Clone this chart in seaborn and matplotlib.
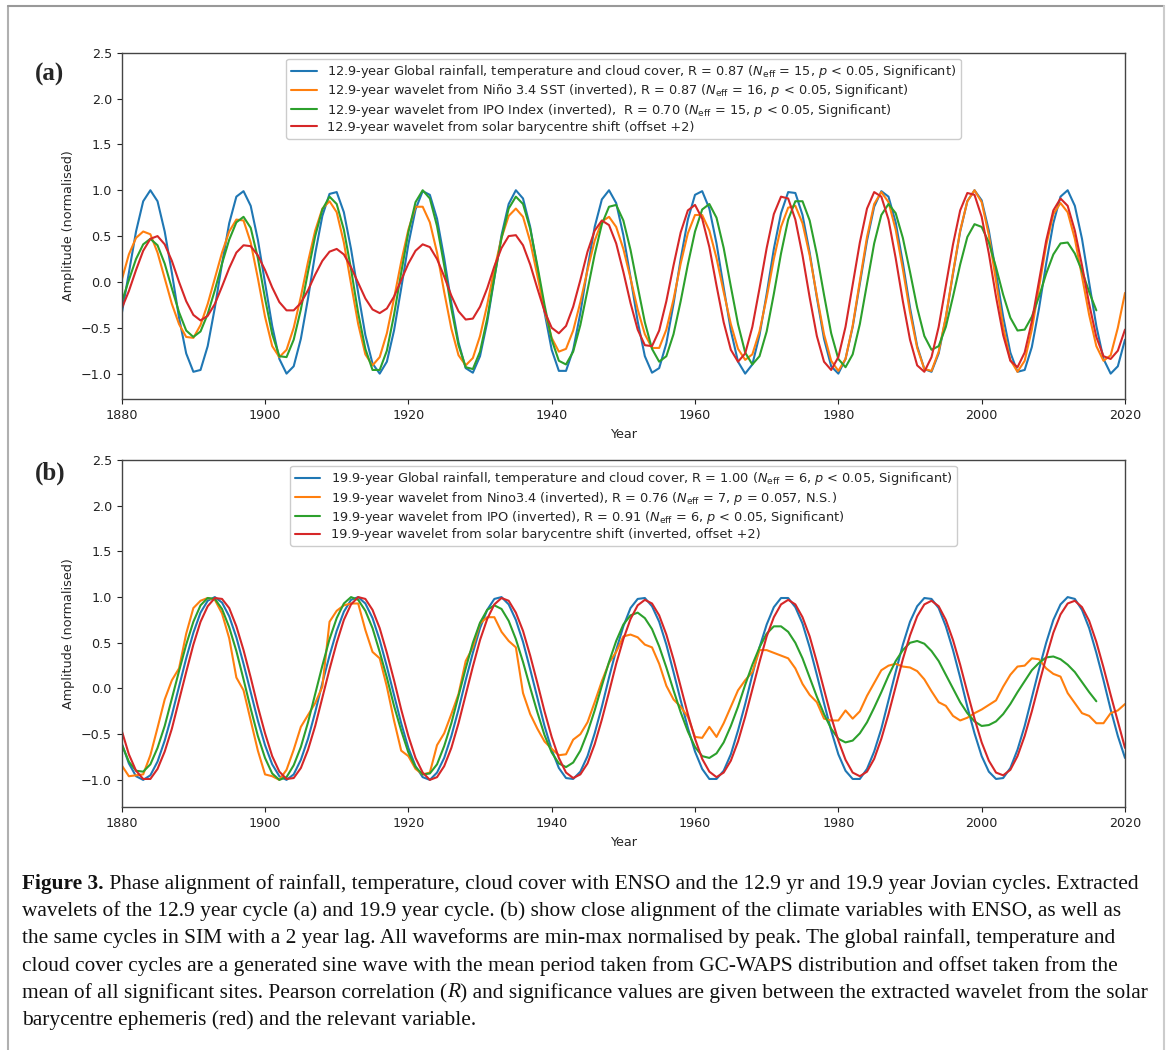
import numpy as np
import pandas as pd
import matplotlib
matplotlib.use("Agg")
import matplotlib.pyplot as plt
import seaborn as sns
from matplotlib.lines import Line2D

# ---- data (yearly values) ----
years_a = np.arange(1880, 2021)
years_ipo_a = np.arange(1880, 2017)
years_b = np.arange(1880, 2021)
years_ipo_b = np.arange(1880, 2017)

# (a) 12.9-year cycle
global_a = [-0.35, 0.10, 0.55, 0.88, 1.00, 0.88, 0.55, 0.10, -0.39, -0.78,
            -0.98, -0.96, -0.70, -0.28, 0.20, 0.64, 0.93, 0.99, 0.83, 0.46,
            -0.01, -0.48, -0.84, -1.00, -0.92, -0.62, -0.18, 0.31, 0.72, 0.96,
            0.98, 0.76, 0.36, -0.12, -0.58, -0.89, -1.00, -0.87, -0.53, -0.07,
            0.41, 0.79, 0.99, 0.95, 0.69, 0.26, -0.23, -0.66, -0.94, -0.99,
            -0.81, -0.44, 0.04, 0.51, 0.85, 1.00, 0.91, 0.60, 0.15, -0.33,
            -0.74, -0.97, -0.97, -0.74, -0.34, 0.15, 0.60, 0.90, 1.00, 0.86,
            0.51, 0.05, -0.43, -0.81, -0.99, -0.94, -0.67, -0.24, 0.25, 0.68,
            0.95, 0.99, 0.80, 0.42, -0.06, -0.53, -0.87, -1.00, -0.90, -0.58,
            -0.13, 0.36, 0.75, 0.98, 0.97, 0.73, 0.32, -0.17, -0.62, -0.92,
            -1.00, -0.84, -0.49, -0.02, 0.45, 0.82, 0.99, 0.93, 0.65, 0.21,
            -0.28, -0.70, -0.95, -0.98, -0.78, -0.39, 0.09, 0.55, 0.88, 1.00,
            0.89, 0.56, 0.10, -0.38, -0.77, -0.98, -0.96, -0.71, -0.29, 0.20,
            0.64, 0.93, 1.00, 0.83, 0.47, -0.01, -0.48, -0.84, -1.00, -0.92,
            -0.63]
nino_a = [0.02, 0.30, 0.48, 0.55, 0.52, 0.32, 0.04, -0.24, -0.46, -0.60,
          -0.61, -0.47, -0.24, 0.04, 0.32, 0.55, 0.68, 0.67, 0.43, 0.04,
          -0.38, -0.70, -0.82, -0.74, -0.50, -0.16, 0.22, 0.56, 0.80, 0.88,
          0.76, 0.43, -0.02, -0.46, -0.79, -0.91, -0.82, -0.56, -0.18, 0.22,
          0.57, 0.82, 0.82, 0.65, 0.32, -0.11, -0.51, -0.80, -0.91, -0.83,
          -0.59, -0.25, 0.14, 0.48, 0.72, 0.80, 0.71, 0.44, 0.07, -0.31,
          -0.61, -0.76, -0.73, -0.53, -0.22, 0.13, 0.45, 0.66, 0.71, 0.60,
          0.36, 0.04, -0.30, -0.57, -0.72, -0.72, -0.52, -0.19, 0.20, 0.53,
          0.73, 0.73, 0.56, 0.26, -0.11, -0.46, -0.73, -0.85, -0.79, -0.54,
          -0.17, 0.25, 0.60, 0.81, 0.83, 0.64, 0.29, -0.15, -0.57, -0.86,
          -0.97, -0.84, -0.48, 0.01, 0.49, 0.85, 0.98, 0.87, 0.57, 0.14,
          -0.33, -0.72, -0.95, -0.97, -0.76, -0.38, 0.10, 0.56, 0.88, 1.00,
          0.87, 0.51, 0.01, -0.49, -0.85, -0.98, -0.86, -0.52, -0.06, 0.40,
          0.74, 0.86, 0.76, 0.47, 0.06, -0.36, -0.70, -0.86, -0.80, -0.50,
          -0.12]
ipo_a = [-0.22, 0.02, 0.25, 0.41, 0.47, 0.40, 0.20, -0.07, -0.33, -0.53,
         -0.60, -0.54, -0.35, -0.09, 0.20, 0.46, 0.65, 0.71, 0.59, 0.26,
         -0.18, -0.57, -0.81, -0.82, -0.63, -0.30, 0.11, 0.50, 0.79, 0.93,
         0.85, 0.57, 0.14, -0.34, -0.73, -0.96, -0.96, -0.75, -0.36, 0.10,
         0.54, 0.87, 1.00, 0.91, 0.61, 0.18, -0.29, -0.69, -0.93, -0.95,
         -0.76, -0.40, 0.05, 0.48, 0.80, 0.93, 0.85, 0.58, 0.18, -0.25,
         -0.63, -0.86, -0.90, -0.76, -0.47, -0.09, 0.30, 0.63, 0.82, 0.84,
         0.67, 0.35, -0.05, -0.44, -0.73, -0.87, -0.81, -0.57, -0.21, 0.19,
         0.55, 0.79, 0.85, 0.70, 0.37, -0.05, -0.46, -0.77, -0.90, -0.81,
         -0.54, -0.13, 0.31, 0.68, 0.88, 0.88, 0.67, 0.30, -0.14, -0.56,
         -0.84, -0.93, -0.79, -0.46, -0.02, 0.42, 0.73, 0.85, 0.75, 0.48,
         0.11, -0.28, -0.59, -0.74, -0.70, -0.49, -0.16, 0.19, 0.49, 0.63,
         0.60, 0.43, 0.16, -0.14, -0.39, -0.53, -0.52, -0.38, -0.16, 0.09,
         0.30, 0.42, 0.43, 0.31, 0.12, -0.11, -0.31]
solar_a = [-0.29, -0.10, 0.13, 0.34, 0.47, 0.50, 0.41, 0.23, 0.00, -0.21,
           -0.36, -0.42, -0.37, -0.24, -0.05, 0.15, 0.32, 0.40, 0.39, 0.29,
           0.13, -0.06, -0.22, -0.31, -0.31, -0.23, -0.09, 0.08, 0.23, 0.33,
           0.36, 0.30, 0.16, -0.01, -0.18, -0.30, -0.34, -0.29, -0.16, 0.02,
           0.20, 0.34, 0.41, 0.38, 0.25, 0.06, -0.15, -0.32, -0.41, -0.40,
           -0.27, -0.07, 0.17, 0.37, 0.50, 0.51, 0.40, 0.19, -0.07, -0.32,
           -0.50, -0.56, -0.48, -0.27, 0.02, 0.33, 0.56, 0.67, 0.62, 0.42,
           0.11, -0.23, -0.52, -0.69, -0.70, -0.53, -0.21, 0.18, 0.54, 0.78,
           0.84, 0.69, 0.38, -0.04, -0.44, -0.74, -0.87, -0.78, -0.49, -0.07,
           0.37, 0.74, 0.93, 0.91, 0.68, 0.29, -0.17, -0.59, -0.87, -0.96,
           -0.82, -0.49, -0.03, 0.43, 0.80, 0.98, 0.93, 0.68, 0.26, -0.21,
           -0.63, -0.91, -0.98, -0.82, -0.49, -0.04, 0.41, 0.78, 0.97, 0.95,
           0.71, 0.31, -0.16, -0.58, -0.86, -0.93, -0.77, -0.43, 0.01, 0.45,
           0.78, 0.91, 0.83, 0.56, 0.18, -0.24, -0.60, -0.81, -0.84, -0.75,
           -0.52]

# (b) 19.9-year cycle
global_b = [-0.60, -0.82, -0.96, -1.00, -0.95, -0.80, -0.57, -0.29, 0.02, 0.33,
            0.61, 0.83, 0.96, 1.00, 0.94, 0.79, 0.56, 0.27, -0.04, -0.35,
            -0.62, -0.83, -0.96, -1.00, -0.94, -0.78, -0.55, -0.26, 0.06, 0.36,
            0.63, 0.84, 0.97, 1.00, 0.93, 0.77, 0.53, 0.24, -0.07, -0.38,
            -0.65, -0.85, -0.97, -1.00, -0.92, -0.76, -0.52, -0.23, 0.09, 0.39,
            0.66, 0.86, 0.98, 1.00, 0.92, 0.75, 0.51, 0.21, -0.10, -0.41,
            -0.67, -0.87, -0.98, -0.99, -0.91, -0.74, -0.49, -0.20, 0.12, 0.42,
            0.68, 0.88, 0.98, 0.99, 0.90, 0.73, 0.48, 0.18, -0.13, -0.43,
            -0.69, -0.88, -0.99, -0.99, -0.90, -0.72, -0.46, -0.17, 0.15, 0.45,
            0.70, 0.89, 0.99, 0.99, 0.89, 0.71, 0.45, 0.15, -0.16, -0.46,
            -0.72, -0.90, -0.99, -0.99, -0.88, -0.69, -0.44, -0.13, 0.18, 0.48,
            0.73, 0.90, 0.99, 0.98, 0.88, 0.68, 0.42, 0.12, -0.20, -0.49,
            -0.74, -0.91, -0.99, -0.98, -0.87, -0.67, -0.41, -0.10, 0.21, 0.50,
            0.75, 0.92, 1.00, 0.98, 0.86, 0.66, 0.39, 0.09, -0.23, -0.52,
            -0.76]
nino_b = [-0.84, -0.96, -0.95, -0.94, -0.73, -0.43, -0.12, 0.09, 0.22, 0.60,
          0.88, 0.96, 0.99, 0.97, 0.82, 0.55, 0.12, -0.02, -0.35, -0.68,
          -0.94, -0.96, -1.00, -0.89, -0.67, -0.42, -0.29, -0.16, 0.02, 0.73,
          0.85, 0.91, 0.93, 0.93, 0.64, 0.40, 0.33, 0.02, -0.35, -0.68,
          -0.74, -0.88, -0.94, -0.92, -0.62, -0.49, -0.28, -0.06, 0.30, 0.45,
          0.71, 0.78, 0.78, 0.62, 0.52, 0.45, -0.05, -0.28, -0.44, -0.58,
          -0.66, -0.73, -0.72, -0.56, -0.50, -0.37, -0.15, 0.08, 0.28, 0.40,
          0.57, 0.59, 0.56, 0.48, 0.45, 0.27, 0.03, -0.12, -0.20, -0.31,
          -0.53, -0.54, -0.42, -0.53, -0.38, -0.20, -0.02, 0.09, 0.18, 0.42,
          0.42, 0.39, 0.36, 0.33, 0.22, 0.05, -0.07, -0.15, -0.33, -0.35,
          -0.35, -0.24, -0.33, -0.25, -0.08, 0.06, 0.20, 0.25, 0.27, 0.24,
          0.23, 0.19, 0.10, -0.03, -0.15, -0.19, -0.30, -0.35, -0.32, -0.27,
          -0.23, -0.18, -0.13, 0.02, 0.15, 0.24, 0.25, 0.33, 0.32, 0.22,
          0.16, 0.13, -0.05, -0.16, -0.27, -0.30, -0.38, -0.38, -0.27, -0.24,
          -0.17]
ipo_b = [-0.61, -0.80, -0.90, -0.91, -0.83, -0.65, -0.41, -0.11, 0.19, 0.48,
         0.73, 0.91, 0.99, 0.98, 0.87, 0.67, 0.41, 0.10, -0.22, -0.52,
         -0.76, -0.93, -1.00, -0.97, -0.84, -0.64, -0.37, -0.06, 0.25, 0.54,
         0.77, 0.93, 1.00, 0.97, 0.85, 0.66, 0.40, 0.12, -0.19, -0.46,
         -0.70, -0.86, -0.94, -0.93, -0.83, -0.63, -0.38, -0.08, 0.22, 0.50,
         0.72, 0.86, 0.91, 0.87, 0.74, 0.54, 0.29, 0.01, -0.26, -0.51,
         -0.70, -0.82, -0.86, -0.81, -0.68, -0.48, -0.24, 0.03, 0.29, 0.52,
         0.70, 0.80, 0.83, 0.77, 0.65, 0.46, 0.23, -0.02, -0.26, -0.47,
         -0.64, -0.74, -0.76, -0.71, -0.59, -0.41, -0.20, 0.04, 0.26, 0.45,
         0.60, 0.68, 0.68, 0.62, 0.50, 0.33, 0.12, -0.09, -0.28, -0.44,
         -0.55, -0.59, -0.57, -0.49, -0.37, -0.21, -0.04, 0.14, 0.30, 0.42,
         0.50, 0.52, 0.49, 0.41, 0.30, 0.15, 0.00, -0.15, -0.27, -0.36,
         -0.41, -0.40, -0.36, -0.28, -0.17, -0.04, 0.08, 0.20, 0.28, 0.34,
         0.35, 0.32, 0.26, 0.18, 0.07, -0.04, -0.14]
solar_b = [-0.46, -0.72, -0.90, -0.99, -0.99, -0.88, -0.69, -0.44, -0.13, 0.18,
           0.48, 0.73, 0.90, 0.99, 0.98, 0.88, 0.68, 0.42, 0.12, -0.20,
           -0.49, -0.74, -0.91, -0.99, -0.98, -0.87, -0.67, -0.41, -0.10, 0.21,
           0.50, 0.75, 0.92, 1.00, 0.98, 0.86, 0.66, 0.39, 0.09, -0.23,
           -0.52, -0.76, -0.92, -1.00, -0.97, -0.85, -0.65, -0.38, -0.07, 0.24,
           0.53, 0.76, 0.92, 0.99, 0.96, 0.83, 0.63, 0.36, 0.06, -0.25,
           -0.53, -0.76, -0.92, -0.98, -0.94, -0.82, -0.61, -0.34, -0.04, 0.27,
           0.54, 0.76, 0.91, 0.97, 0.93, 0.80, 0.59, 0.32, 0.02, -0.28,
           -0.55, -0.77, -0.91, -0.97, -0.92, -0.79, -0.58, -0.31, -0.01, 0.29,
           0.57, 0.78, 0.92, 0.97, 0.92, 0.78, 0.57, 0.29, -0.01, -0.31,
           -0.57, -0.78, -0.92, -0.96, -0.91, -0.77, -0.55, -0.28, 0.02, 0.32,
           0.58, 0.79, 0.92, 0.96, 0.90, 0.75, 0.53, 0.26, -0.04, -0.33,
           -0.59, -0.79, -0.92, -0.95, -0.89, -0.74, -0.52, -0.25, 0.05, 0.34,
           0.61, 0.81, 0.93, 0.96, 0.89, 0.74, 0.51, 0.23, -0.07, -0.36,
           -0.65]

labels_a = [
    r"12.9-year Global rainfall, temperature and cloud cover, R = 0.87 ($N_{\rm eff}$ = 15, $p$ < 0.05, Significant)",
    r"12.9-year wavelet from Niño 3.4 SST (inverted), R = 0.87 ($N_{\rm eff}$ = 16, $p$ < 0.05, Significant)",
    r"12.9-year wavelet from IPO Index (inverted),  R = 0.70 ($N_{\rm eff}$ = 15, $p$ < 0.05, Significant)",
    "12.9-year wavelet from solar barycentre shift (offset +2)",
]
labels_b = [
    r"19.9-year Global rainfall, temperature and cloud cover, R = 1.00 ($N_{\rm eff}$ = 6, $p$ < 0.05, Significant)",
    r"19.9-year wavelet from Nino3.4 (inverted), R = 0.76 ($N_{\rm eff}$ = 7, $p$ = 0.057, N.S.)",
    r"19.9-year wavelet from IPO (inverted), R = 0.91 ($N_{\rm eff}$ = 6, $p$ < 0.05, Significant)",
    "19.9-year wavelet from solar barycentre shift (inverted, offset +2)",
]
colors = ["#1f77b4", "#ff7f0e", "#2ca02c", "#d62728"]

caption_lines = [
    [("Figure 3.", "bold", "normal"),
     (" Phase alignment of rainfall, temperature, cloud cover with ENSO and the 12.9 yr and 19.9 year Jovian cycles. Extracted", "normal", "normal")],
    [("wavelets of the 12.9 year cycle (a) and 19.9 year cycle. (b) show close alignment of the climate variables with ENSO, as well as", "normal", "normal")],
    [("the same cycles in SIM with a 2 year lag. All waveforms are min-max normalised by peak. The global rainfall, temperature and", "normal", "normal")],
    [("cloud cover cycles are a generated sine wave with the mean period taken from GC-WAPS distribution and offset taken from the", "normal", "normal")],
    [("mean of all significant sites. Pearson correlation (", "normal", "normal"),
     ("R", "normal", "italic"),
     (") and significance values are given between the extracted wavelet from the solar", "normal", "normal")],
    [("barycentre ephemeris (red) and the relevant variable.", "normal", "normal")],
]

# ---- style ----
sns.set_style("ticks")
plt.rcParams["font.family"] = ["DejaVu Sans"]
plt.rcParams["axes.edgecolor"] = "#444444"
plt.rcParams["xtick.color"] = "#222222"
plt.rcParams["ytick.color"] = "#222222"

W, H = 1168, 1050
fig = plt.figure(figsize=(W / 100, H / 100), dpi=100)
fig.patch.set_facecolor("white")

ax_a = fig.add_axes([121.7 / W, 1 - 399.3 / H, (1125 - 121.7) / W, (399.3 - 52.7) / H])
ax_b = fig.add_axes([121.7 / W, 1 - 807.3 / H, (1125 - 121.7) / W, (807.3 - 460) / H])

panel_a = [(years_a, global_a), (years_a, nino_a), (years_ipo_a, ipo_a), (years_a, solar_a)]
panel_b = [(years_b, global_b), (years_b, nino_b), (years_ipo_b, ipo_b), (years_b, solar_b)]

for ax, series, labels, ylo in [(ax_a, panel_a, labels_a, -1.28), (ax_b, panel_b, labels_b, -1.30)]:
    for (x, y), lab, c in zip(series, labels, colors):
        df = pd.DataFrame({"Year": x, "Amp": y})
        sns.lineplot(data=df, x="Year", y="Amp", ax=ax, color=c, lw=1.5, label=lab)
    ax.set_xlim(1880, 2020)
    ax.set_ylim(ylo, 2.5)
    ax.set_xticks(np.arange(1880, 2021, 20))
    ax.set_yticks(np.arange(-1.0, 2.51, 0.5))
    ax.tick_params(labelsize=9.2, length=3.5, width=0.8)
    ax.set_xlabel("Year", fontsize=9.2)
    ax.set_ylabel("Amplitude (normalised)", fontsize=9.2)
    for s in ax.spines.values():
        s.set_visible(True)
        s.set_linewidth(1.0)
    ax.legend(loc="upper center", fontsize=9.3, frameon=True, edgecolor="#cccccc",
              framealpha=1.0, handlelength=2.0, labelspacing=0.18,
              borderaxespad=0.45, borderpad=0.35)

fig.text(35 / W, 1 - 74 / H, "(a)", fontsize=18, fontweight="bold",
         family="Liberation Serif", va="center", ha="left")
fig.text(35 / W, 1 - 473 / H, "(b)", fontsize=18, fontweight="bold",
         family="Liberation Serif", va="center", ha="left")

# caption, drawn line by line
renderer = fig.canvas.get_renderer()
cap_size = 15.4
for i, parts in enumerate(caption_lines):
    y = 1 - (884 + 27.2 * i) / H
    x = 22 / W
    for txt, wt, st in parts:
        t = fig.text(x, y, txt, fontsize=cap_size, fontweight=wt, fontstyle=st,
                     family="Liberation Serif", va="center", ha="left", color="#111111")
        bb = t.get_window_extent(renderer=renderer)
        x += bb.width / W

# page frame
fig.add_artist(Line2D([8 / W, 8 / W], [0, 1 - 6 / H], transform=fig.transFigure, color="#b0b0b0", lw=1.5))
fig.add_artist(Line2D([8 / W, 1164 / W], [1 - 6 / H, 1 - 6 / H], transform=fig.transFigure, color="#999999", lw=1.5))
fig.add_artist(Line2D([1164 / W, 1164 / W], [0, 1 - 6 / H], transform=fig.transFigure, color="#cccccc", lw=1.5))

fig.savefig("out.png", dpi=100)
